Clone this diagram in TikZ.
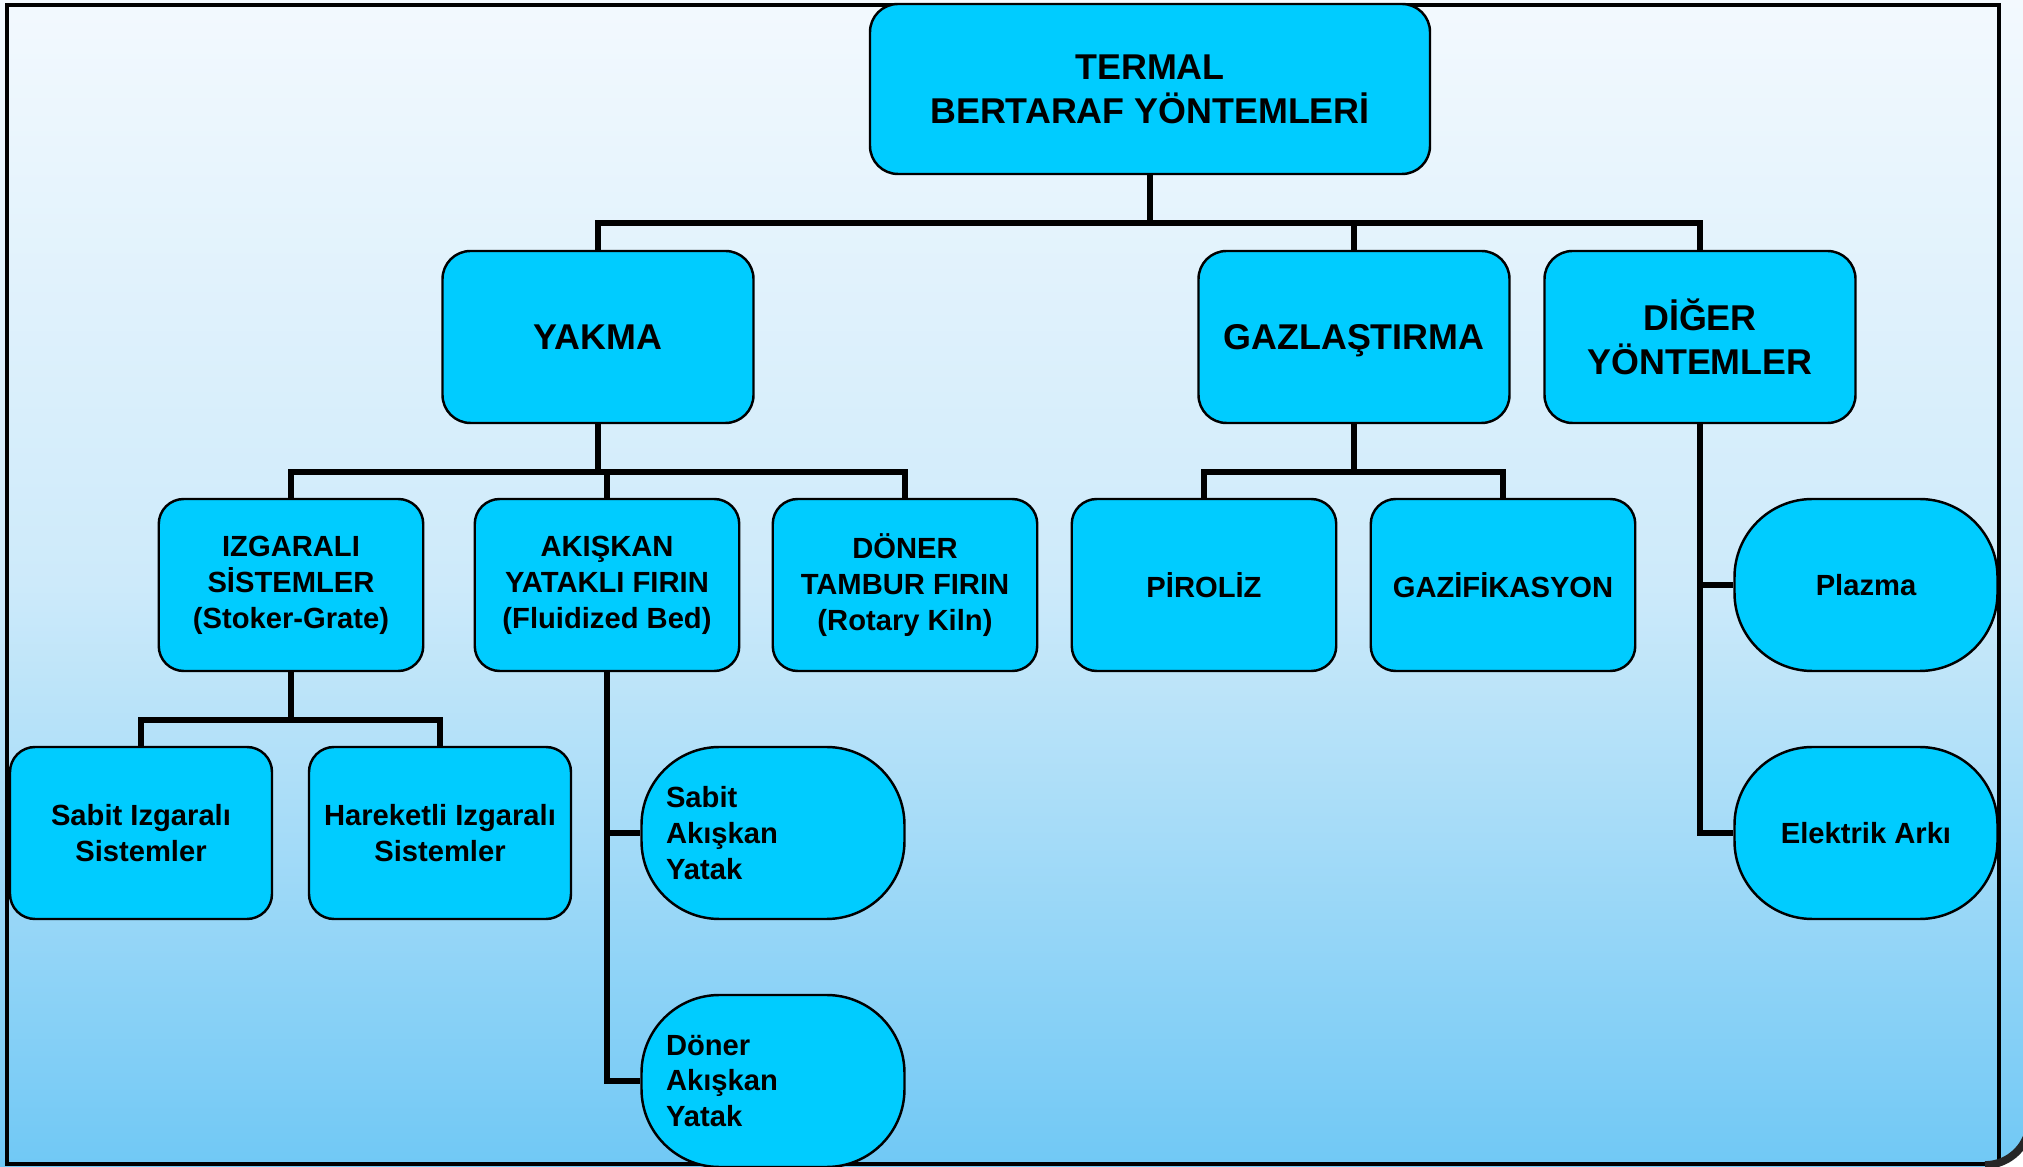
\documentclass[tikz,border=0pt]{standalone}
\usepackage{fontspec}
\setmainfont{Liberation Sans}
\usepackage{tikz}
\definecolor{boxcyan}{RGB}{0,204,255}
\definecolor{bgtop}{RGB}{243,249,254}
\definecolor{bgmid}{RGB}{205,234,250}
\definecolor{bgbot}{RGB}{112,200,245}

\begin{document}
\begin{tikzpicture}[
    bigbox/.style={draw=black,line width=0.7pt,fill=boxcyan,rounded corners=0.28cm,align=center,inner sep=0pt,
      minimum width=3.11cm,minimum height=1.72cm,font=\fontsize{10.2}{12.5}\selectfont\bfseries},
    smallbox/.style={draw=black,line width=0.7pt,fill=boxcyan,rounded corners=0.25cm,align=center,inner sep=0pt,
      minimum width=2.645cm,minimum height=1.72cm,font=\fontsize{8.3}{10.2}\selectfont\bfseries},
    ovalbox/.style={smallbox,rounded corners=0.78cm,minimum width=2.63cm},
    leftoval/.style={ovalbox,align=left,text width=2.14cm,inner xsep=0.245cm},
    link/.style={line width=1.7pt}]
  \useasboundingbox (0,0) rectangle (20.23,-11.67);
  \shade[top color=bgtop,bottom color=bgbot,middle color=bgmid] (0,0) rectangle (20.23,-11.67);
  \draw[line width=1.3pt] (0.07,-0.05) rectangle (19.99,-11.64);
  \fill[white] (19.85,-11.72) -- (19.85,-11.65) arc[start angle=-90,end angle=0,radius=0.45] -- (20.30,-11.72) -- cycle;
  \draw[line width=2.2pt,black!85] (19.85,-11.65) arc[start angle=-90,end angle=0,radius=0.45];

  \node[bigbox,minimum width=5.60cm,minimum height=1.70cm] (termal) at (11.50,-0.89) {TERMAL\\BERTARAF YÖNTEMLERİ};

  \node[bigbox] (yakma) at (5.98,-3.37) {YAKMA};
  \node[bigbox,text depth=0pt] (gazlas) at (13.54,-3.37) {GAZLAŞTIRMA};
  \node[bigbox] (diger) at (17.00,-3.37) {DİĞER\\YÖNTEMLER};

  \node[smallbox] (izgara) at (2.91,-5.85) {IZGARALI\\SİSTEMLER\\(Stoker-Grate)};
  \node[smallbox] (akiskan) at (6.07,-5.85) {AKIŞKAN\\YATAKLI FIRIN\\(Fluidized Bed)};
  \node[smallbox] (doner) at (9.05,-5.85) {DÖNER\\TAMBUR FIRIN\\(Rotary Kiln)};
  \node[smallbox] (piroliz) at (12.04,-5.85) {PİROLİZ};
  \node[smallbox] (gazif) at (15.03,-5.85) {GAZİFİKASYON};

  \node[smallbox,minimum width=2.62cm] (sabitiz) at (1.41,-8.33) {Sabit Izgaralı\\Sistemler};
  \node[smallbox,minimum width=2.62cm] (hareketli) at (4.40,-8.33) {Hareketli Izgaralı\\Sistemler};

  \node[leftoval] (sabitak) at (7.73,-8.33) {Sabit\\Akışkan\\Yatak};
  \node[leftoval] (donerak) at (7.73,-10.81) {Döner\\Akışkan\\Yatak};
  \node[ovalbox] (plazma) at (18.66,-5.85) {Plazma};
  \node[ovalbox] (ark) at (18.66,-8.33) {Elektrik Arkı};

  \coordinate (bus1) at (0,-2.23);
  \coordinate (bus2) at (0,-4.72);
  \coordinate (bus3) at (0,-7.20);

  \draw[link] (termal.south) -- (termal.south |- bus1);
  \draw[link] (yakma.north) |- (diger.north |- bus1) -- (diger.north);
  \draw[link] (gazlas.north) -- (gazlas.north |- bus1);

  \draw[link] (yakma.south) -- (yakma.south |- bus2);
  \draw[link] (izgara.north) |- (doner.north |- bus2) -- (doner.north);
  \draw[link] (akiskan.north) -- (akiskan.north |- bus2);
  \draw[link] (gazlas.south) -- (gazlas.south |- bus2);
  \draw[link] (piroliz.north) |- (gazif.north |- bus2) -- (gazif.north);

  \draw[link] (izgara.south) -- (izgara.south |- bus3);
  \draw[link] (sabitiz.north) |- (hareketli.north |- bus3) -- (hareketli.north);

  \draw[link] (akiskan.south) |- (donerak.west);
  \draw[link] (akiskan.south |- sabitak.west) -- (sabitak.west);
  \draw[link] (diger.south) |- (ark.west);
  \draw[link] (diger.south |- plazma.west) -- (plazma.west);
\end{tikzpicture}
\end{document}
